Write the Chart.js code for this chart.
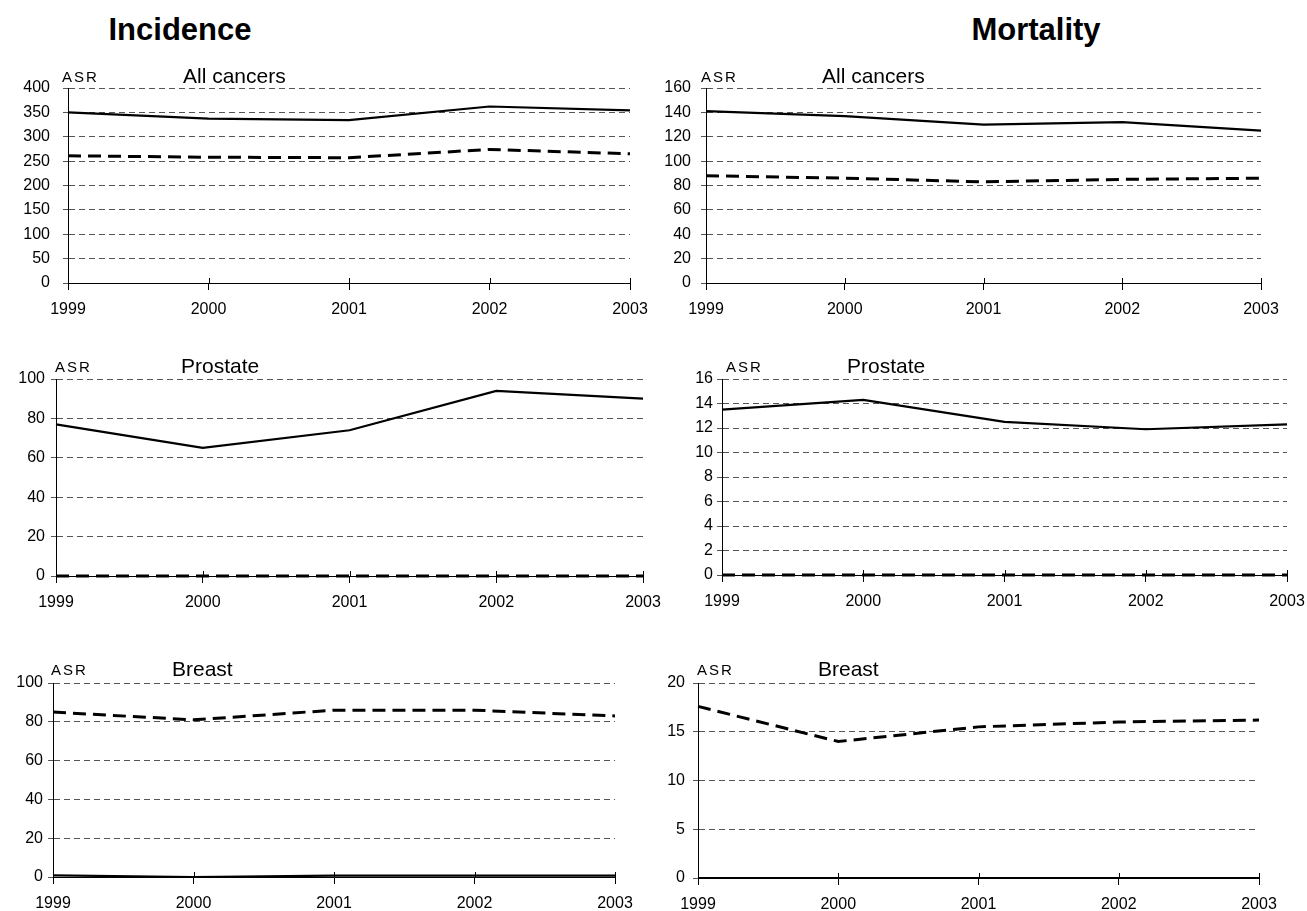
<!DOCTYPE html>
<html>
<head>
<meta charset="utf-8">
<script src="https://cdn.jsdelivr.net/npm/chart.js@4.4.1/dist/chart.umd.min.js"></script>
<style>
  html, body { margin: 0; padding: 0; background: #fff; }
  body { width: 1307px; height: 911px; position: relative; overflow: hidden; font-family: "Liberation Sans", Arial, sans-serif; }
  canvas { position: absolute; }
  .t { position: absolute; white-space: nowrap; color: #000; line-height: 1; font-family: "Liberation Sans", Arial, sans-serif; }
  .head { font-weight: bold; font-size: 31px; }
  .sub { font-size: 21px; }
  .asr { font-size: 15px; letter-spacing: 2px; }
</style>
</head>
<body>
<script>
// ---------------- data ----------------
const years = ['1999', '2000', '2001', '2002', '2003'];

const incAllMale        = [350, 337, 334, 362, 354];
const incAllFemale      = [261, 258, 257, 274, 265];
const morAllMale        = [141, 137, 130, 132, 125];
const morAllFemale      = [88, 86, 83, 85, 86];
const incProstateMale   = [77, 65, 74, 94, 90];
const incProstateFemale = [0, 0, 0, 0, 0];
const morProstateMale   = [13.5, 14.3, 12.5, 11.9, 12.3];
const morProstateFemale = [0, 0, 0, 0, 0];
const incBreastMale     = [0.8, 0, 0.7, 0.7, 0.7];
const incBreastFemale   = [85, 81, 86, 86, 83];
const morBreastMale     = [0, 0, 0, 0, 0];
const morBreastFemale   = [17.6, 14.0, 15.5, 16.0, 16.2];

const columnTitles = ['Incidence', 'Mortality'];
const panelTitles = ['All cancers', 'All cancers', 'Prostate', 'Prostate', 'Breast', 'Breast'];
const yUnit = 'ASR';
const yMax = [400, 160, 100, 16, 100, 20];
const yStep = [50, 20, 20, 2, 20, 5];

// ---------------- layout (pixel geometry only) ----------------
// chart area: axis x, right x, top y, bottom y
const areas = [
  [68, 630, 88, 283],
  [706, 1261, 88, 283],
  [56, 643, 379, 576],
  [722, 1287, 379, 575],
  [53, 615, 683, 877],
  [698, 1259, 683, 878]
];
const yLabelPad = [13, 10, 6, 4, 5, 8];
const asrPos = [[62, 82], [701, 82], [55, 372], [726, 372], [51, 675], [697, 675]];
const subPos = [[183, 83], [822, 83], [181, 373], [847, 373], [172, 676], [818, 676]];
const headPos = [[180, 40], [1036, 40]];

const YW = 50, PADR = 32, PADT = 12, XH = 44;

function addText(cls, txt, x, baseline, size, center) {
  const d = document.createElement('div');
  d.className = 't ' + cls;
  d.textContent = txt;
  d.style.top = (baseline - 0.8465 * size) + 'px';
  d.style.left = x + 'px';
  if (center) d.style.transform = 'translateX(-50%)';
  d.style.zIndex = 5;
  document.body.appendChild(d);
}

const crossTicks = {
  id: 'crossTicks',
  afterDraw(chart) {
    const xs = chart.scales.x;
    const ctx = chart.ctx;
    ctx.save();
    ctx.strokeStyle = '#000';
    ctx.lineWidth = 1;
    ctx.beginPath();
    xs.ticks.forEach((t, i) => {
      const x = Math.round(xs.getPixelForTick(i)) + 0.5;
      ctx.moveTo(x, xs.top - 5);
      ctx.lineTo(x, xs.top);
    });
    ctx.stroke();
    ctx.restore();
  }
};

const seriesMale = [incAllMale, morAllMale, incProstateMale, morProstateMale, incBreastMale, morBreastMale];
const seriesFemale = [incAllFemale, morAllFemale, incProstateFemale, morProstateFemale, incBreastFemale, morBreastFemale];

for (let p = 0; p < 6; p++) {
  const [ax, rx, ty, by] = areas[p];
  const cv = document.createElement('canvas');
  const w = (rx - ax) + YW + PADR;
  const h = (by - ty) + PADT + XH;
  cv.width = w; cv.height = h;
  cv.style.left = (ax - YW) + 'px';
  cv.style.top = (ty - PADT) + 'px';
  cv.style.width = w + 'px';
  cv.style.height = h + 'px';
  document.body.appendChild(cv);

  new Chart(cv, {
    type: 'line',
    data: {
      labels: years,
      datasets: [
        {
          label: 'Male',
          data: seriesMale[p],
          borderColor: '#000',
          borderWidth: 2.2,
          pointRadius: 0,
          tension: 0,
          fill: false,
          clip: false
        },
        {
          label: 'Female',
          data: seriesFemale[p],
          borderColor: '#000',
          borderWidth: 3,
          borderDash: [13, 7],
          pointRadius: 0,
          tension: 0,
          fill: false,
          clip: false
        }
      ]
    },
    options: {
      responsive: false,
      animation: false,
      devicePixelRatio: 1,
      layout: { padding: { left: 0, right: PADR, top: PADT, bottom: 0 } },
      plugins: { legend: { display: false }, tooltip: { enabled: false }, title: { display: false } },
      scales: {
        x: {
          type: 'category',
          offset: false,
          grid: { display: true, drawOnChartArea: false, drawTicks: true, tickLength: 7, color: '#000' },
          border: { display: true, color: '#000', width: 1 },
          ticks: {
            color: '#000',
            font: { family: '"Liberation Sans", Arial, sans-serif', size: 16 },
            padding: 10,
            maxRotation: 0,
            autoSkip: false
          },
          afterFit(s) { s.height = XH; s.paddingLeft = 0; s.paddingRight = 0; }
        },
        y: {
          min: 0,
          max: yMax[p],
          grid: { display: true, drawOnChartArea: true, drawTicks: true, tickLength: 5, color: '#555', lineWidth: 1 },
          border: { display: true, color: '#000', width: 1, dash: [6, 4] },
          ticks: {
            stepSize: yStep[p],
            color: '#000',
            font: { family: '"Liberation Sans", Arial, sans-serif', size: 16 },
            padding: yLabelPad[p]
          },
          afterFit(s) { s.width = YW; s.paddingTop = 0; s.paddingBottom = 0; }
        }
      }
    },
    plugins: [crossTicks]
  });

  addText('asr', yUnit, asrPos[p][0], asrPos[p][1], 15, false);
  addText('sub', panelTitles[p], subPos[p][0], subPos[p][1], 21, false);
}

addText('head', columnTitles[0], headPos[0][0], headPos[0][1], 31, true);
addText('head', columnTitles[1], headPos[1][0], headPos[1][1], 31, true);
</script>
</body>
</html>
